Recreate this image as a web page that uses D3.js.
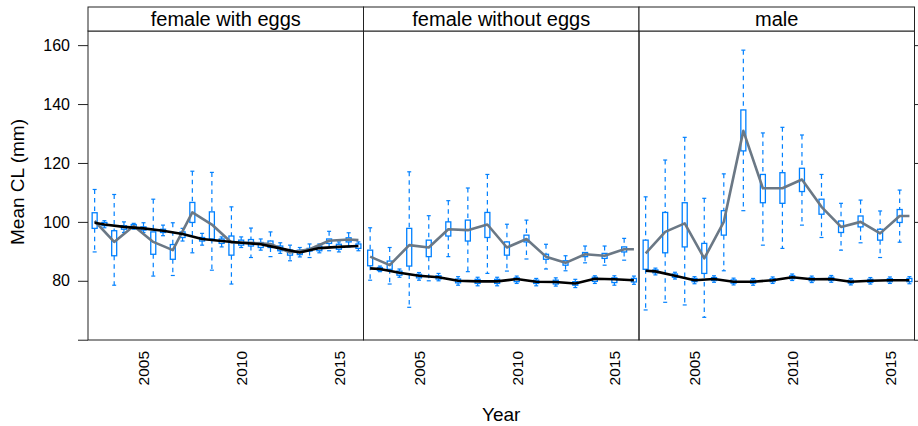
<!DOCTYPE html>
<html>
<head>
<meta charset="utf-8">
<script src="https://cdn.jsdelivr.net/npm/d3@7"></script>
<style>
body { margin: 0; background: #fff; }
svg text { font-family: "Liberation Sans", Arial, Helvetica, sans-serif; fill: #000; }
</style>
</head>
<body>
<svg id="chart" width="918" height="426"></svg>
<script>
// panel names
const panels = ["female with eggs", "female without eggs", "male"];

// x positions of the two series of boxes, and of the two lines
const greyYears = [2002.5, 2003.5, 2004.5, 2005.5, 2006.5, 2007.5, 2008.5, 2009.5, 2010.5, 2011.5, 2012.5, 2013.5, 2014.5, 2015.5];
const blackYears = [2003, 2004, 2005, 2006, 2007, 2008, 2009, 2010, 2011, 2012, 2013, 2014, 2015, 2016];
const greyLineYears = [2002.5, 2003.5, 2004.5, 2005.5, 2006.5, 2007.5, 2008.5, 2009.5, 2010.5, 2011.5, 2012.5, 2013.5, 2014.5, 2015.5, 2016];
const blackLineYears = [2002.5, 2003, 2004, 2005, 2006, 2007, 2008, 2009, 2010, 2011, 2012, 2013, 2014, 2015, 2016];

// boxes: [lower whisker, q1, q3, upper whisker]
const eggsGreyBox = [[89.8, 97.8, 103.1, 111.0], [78.5, 88.5, 97.0, 109.3], [97.5, 97.9, 99.1, 99.5], [81.6, 89.0, 96.6, 107.7],
  [81.8, 87.3, 92.3, 99.7], [89.5, 99.8, 106.6, 117.2], [83.6, 94.2, 103.4, 116.8], [78.9, 88.7, 95.2, 105.1],
  [87.9, 91.8, 94.0, 97.9], [88.2, 91.3, 93.5, 96.6], [86.8, 88.7, 90.4, 92.1], [87.9, 90.1, 91.0, 92.5],
  [90.2, 92.7, 94.2, 96.8], [91.5, 93.2, 94.6, 96.3]];
const eggsBlackBox = [[98.0, 98.7, 99.8, 100.4], [96.4, 97.5, 98.7, 100.0], [96.4, 97.2, 98.3, 99.7], [95.3, 96.4, 97.5, 98.9],
  [93.5, 94.7, 96.6, 97.8], [92.1, 93.5, 94.7, 96.1], [91.5, 92.7, 94.2, 94.9], [91.3, 92.1, 93.8, 94.9],
  [90.4, 91.3, 93.0, 94.2], [89.3, 90.2, 91.8, 92.9], [88.1, 88.9, 90.4, 91.3], [89.5, 90.2, 91.8, 92.5],
  [89.8, 90.7, 92.4, 93.2], [90.2, 91.0, 92.5, 93.2]];
const eggsGreyLine = [100.3, 93.2, 98.6, 93.2, 90.4, 103.2, 99.1, 93.0, 92.9, 92.5, 89.6, 90.7, 93.6, 94.0, 93.8];
const eggsBlackLine = [99.7, 99.1, 98.3, 97.8, 97.0, 95.9, 94.2, 93.5, 92.9, 92.4, 91.0, 89.6, 91.1, 91.5, 91.8];

const noEggsGreyBox = [[80.2, 85.1, 90.4, 98.0], [78.9, 83.9, 86.7, 91.3], [71.0, 85.0, 97.8, 117.0], [80.0, 88.2, 93.8, 102.1],
  [88.2, 95.2, 100.0, 107.2], [83.1, 93.5, 100.6, 111.5], [82.5, 94.7, 103.2, 116.1], [83.3, 88.7, 93.2, 99.2],
  [87.4, 93.2, 95.5, 100.6], [84.0, 87.3, 89.0, 92.4], [83.4, 85.3, 86.8, 88.5], [86.1, 88.2, 89.6, 91.8],
  [85.3, 87.6, 89.3, 91.8], [87.0, 89.8, 91.5, 94.4]];
const noEggsBlackBox = [[83.1, 83.5, 84.5, 85.0], [81.2, 81.9, 83.3, 84.0], [80.2, 81.0, 82.2, 82.8], [80.0, 80.6, 81.7, 82.5],
  [78.5, 79.3, 80.6, 81.4], [78.3, 79.1, 80.5, 81.2], [78.3, 79.1, 80.5, 81.2], [79.1, 79.7, 81.0, 81.6],
  [78.3, 79.1, 80.2, 80.8], [78.2, 78.9, 80.2, 81.0], [77.7, 78.5, 79.7, 80.5], [79.1, 79.8, 81.2, 81.7],
  [78.5, 79.4, 81.0, 81.7], [78.8, 79.6, 80.8, 81.6]];
const noEggsGreyLine = [88.2, 85.3, 92.1, 91.3, 97.5, 97.2, 99.1, 91.3, 94.2, 88.2, 86.1, 89.0, 88.5, 90.7, 90.7];
const noEggsBlackLine = [84.2, 84.0, 82.7, 81.7, 81.2, 80.0, 79.8, 79.8, 80.6, 79.7, 79.6, 79.1, 80.7, 80.5, 80.2];

const maleGreyBox = [[70.1, 83.9, 93.8, 108.5], [72.7, 89.5, 103.2, 121.0], [71.8, 91.5, 106.5, 128.7], [67.6, 82.5, 92.7, 108.0],
  [83.4, 95.5, 103.8, 116.3], [103.8, 124.1, 138.0, 158.3], [92.1, 106.5, 116.1, 130.2], [91.0, 106.3, 116.7, 132.1],
  [98.9, 110.3, 118.2, 129.5], [94.7, 102.6, 107.7, 116.1], [90.4, 96.4, 100.3, 106.3], [92.9, 98.3, 102.0, 107.4],
  [87.9, 93.8, 97.5, 103.7], [93.1, 99.8, 104.2, 110.8]];
const maleBlackBox = [[82.0, 82.7, 83.7, 84.3], [80.6, 81.2, 82.3, 82.9], [79.0, 79.7, 80.8, 81.4], [79.5, 80.1, 81.1, 81.7],
  [78.6, 79.2, 80.3, 80.9], [78.5, 79.2, 80.2, 80.8], [79.1, 79.7, 80.7, 81.3], [80.1, 80.7, 81.7, 82.3],
  [79.4, 80.0, 81.0, 81.6], [79.5, 80.1, 81.2, 81.8], [78.6, 79.2, 80.2, 80.8], [78.9, 79.5, 80.5, 81.1],
  [79.1, 79.7, 80.7, 81.3], [79.0, 79.7, 80.8, 81.4]];
const maleGreyLine = [89.3, 96.6, 99.5, 87.6, 100.0, 130.9, 111.4, 111.4, 114.4, 105.1, 98.3, 100.0, 96.1, 102.0, 102.0];
const maleBlackLine = [83.4, 83.2, 81.7, 80.2, 80.6, 79.7, 79.7, 80.2, 81.2, 80.5, 80.6, 79.7, 80.0, 80.2, 80.2];

// tick labels
const yTicks = [60, 80, 100, 120, 140, 160];
const xTicks = [2005, 2010, 2015];

function draw_chart() {
    const panel_data = [
        {grey_box: eggsGreyBox, black_box: eggsBlackBox, grey_line: eggsGreyLine, black_line: eggsBlackLine},
        {grey_box: noEggsGreyBox, black_box: noEggsBlackBox, grey_line: noEggsGreyLine, black_line: noEggsBlackLine},
        {grey_box: maleGreyBox, black_box: maleBlackBox, grey_line: maleGreyLine, black_line: maleBlackLine}
    ];

    const left = 88, right = 914.5, top = 7, strip_h = 24, bottom = 340;
    const panel_w = (right - left) / panels.length;
    const box_w = 5, cap_w = 4;
    const blue = "#0080ff";
    const frame = "#222";

    const svg = d3.select("#chart");

    const y = d3.scaleLinear().domain([59.9, 164.8]).range([bottom, top + strip_h]);
    const x = d3.scaleLinear().domain([2002.16, 2016.26]).range([0, panel_w]);

    panels.forEach((name, i) => {
        const data = panel_data[i];
        const g = svg.append("g").attr("transform", `translate(${left + i * panel_w},0)`);

        // boxes (drawn before the lines)
        const draw_boxes = (boxes, years) => {
            const b = g.append("g").selectAll("g")
                .data(boxes.map((d, k) => ({year: years[k], lo: d[0], q1: d[1], q3: d[2], hi: d[3]})))
                .join("g");

            b.append("line")
                .attr("x1", d => x(d.year)).attr("x2", d => x(d.year))
                .attr("y1", d => y(d.hi)).attr("y2", d => y(d.q3))
                .attr("stroke", blue).attr("stroke-width", 1.2).attr("stroke-dasharray", "4.5,4");
            b.append("line")
                .attr("x1", d => x(d.year)).attr("x2", d => x(d.year))
                .attr("y1", d => y(d.q1)).attr("y2", d => y(d.lo))
                .attr("stroke", blue).attr("stroke-width", 1.2).attr("stroke-dasharray", "4.5,4");
            b.append("line")
                .attr("x1", d => x(d.year) - cap_w / 2).attr("x2", d => x(d.year) + cap_w / 2)
                .attr("y1", d => y(d.hi)).attr("y2", d => y(d.hi))
                .attr("stroke", blue).attr("stroke-width", 1.2);
            b.append("line")
                .attr("x1", d => x(d.year) - cap_w / 2).attr("x2", d => x(d.year) + cap_w / 2)
                .attr("y1", d => y(d.lo)).attr("y2", d => y(d.lo))
                .attr("stroke", blue).attr("stroke-width", 1.2);
            b.append("rect")
                .attr("x", d => x(d.year) - box_w / 2)
                .attr("y", d => y(d.q3))
                .attr("width", box_w)
                .attr("height", d => Math.max(1, y(d.q1) - y(d.q3)))
                .attr("fill", "none")
                .attr("stroke", blue)
                .attr("stroke-width", 1.3);
        };
        draw_boxes(data.grey_box, greyYears);
        draw_boxes(data.black_box, blackYears);

        const line = d3.line().x(d => x(d[0])).y(d => y(d[1]));

        g.append("path")
            .datum(greyLineYears.map((yr, k) => [yr, data.grey_line[k]]))
            .attr("d", line)
            .attr("fill", "none")
            .attr("stroke", "#6b7885")
            .attr("stroke-width", 2.6)
            .attr("stroke-linejoin", "round");

        g.append("path")
            .datum(blackLineYears.map((yr, k) => [yr, data.black_line[k]]))
            .attr("d", line)
            .attr("fill", "none")
            .attr("stroke", "#000")
            .attr("stroke-width", 2.6)
            .attr("stroke-linejoin", "round");

        // panel frame and strip
        g.append("rect")
            .attr("x", 0).attr("y", top + strip_h)
            .attr("width", panel_w).attr("height", bottom - top - strip_h)
            .attr("fill", "none").attr("stroke", frame).attr("stroke-width", 1);
        g.append("rect")
            .attr("x", 0).attr("y", top)
            .attr("width", panel_w).attr("height", strip_h)
            .attr("fill", "#fff").attr("stroke", frame).attr("stroke-width", 1);
        g.append("text")
            .attr("x", panel_w / 2).attr("y", top + strip_h - 5.5)
            .attr("text-anchor", "middle")
            .attr("font-size", 20)
            .text(name);

        // year labels under each panel
        g.append("g")
            .attr("transform", `translate(0,${bottom})`)
            .call(d3.axisBottom(x).tickValues(xTicks).tickSize(0).tickFormat(d3.format("d")))
            .call(a => a.select(".domain").remove())
            .selectAll("text")
            .attr("font-size", 15.5)
            .attr("transform", "rotate(-90)")
            .attr("x", -11)
            .attr("y", 0)
            .attr("dy", "0.35em")
            .style("text-anchor", "end");
    });

    // left axis
    svg.append("g")
        .attr("transform", `translate(${left},0)`)
        .call(d3.axisLeft(y).tickValues(yTicks).tickSize(10).tickPadding(8)
            .tickFormat(d => d === 60 ? "" : d))
        .call(a => a.select(".domain").remove())
        .attr("color", frame)
        .selectAll("text")
        .attr("font-size", 16);

    // right ticks without labels
    svg.append("g")
        .attr("transform", `translate(${right},0)`)
        .call(d3.axisRight(y).tickValues(yTicks).tickSize(10).tickFormat(""))
        .call(a => a.select(".domain").remove())
        .attr("color", frame);

    svg.append("text")
        .attr("transform", "translate(24,182) rotate(-90)")
        .attr("text-anchor", "middle")
        .attr("font-size", 19)
        .text("Mean CL (mm)");

    svg.append("text")
        .attr("x", (left + right) / 2)
        .attr("y", 421)
        .attr("text-anchor", "middle")
        .attr("font-size", 19)
        .text("Year");
}

draw_chart();
</script>
</body>
</html>
